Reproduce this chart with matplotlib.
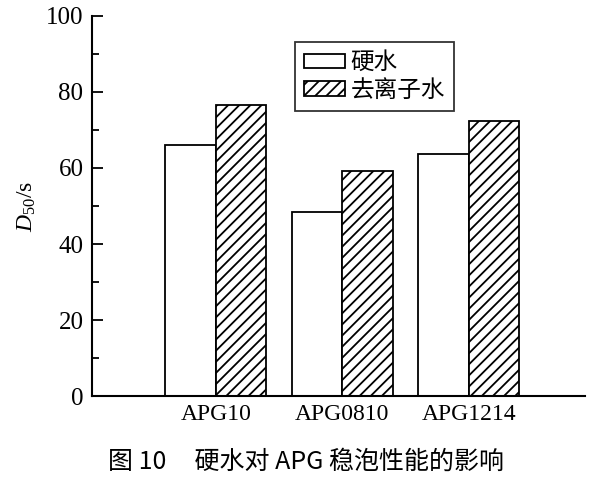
import matplotlib
matplotlib.use("Agg")
import matplotlib.pyplot as plt
import matplotlib.transforms as mtransforms
import numpy as np

categories = ["APG10", "APG0810", "APG1214"]
hard_water = [66.0, 48.3, 63.6]
deionized_water = [76.5, 59.1, 72.4]
series_labels = ["硬水", "去离子水"]
yticks = [0, 20, 40, 60, 80, 100]
caption = "图 10     硬水对 APG 稳泡性能的影响"

plt.rcParams['font.family'] = ['Liberation Serif', 'Noto Sans CJK SC']
plt.rcParams['mathtext.fontset'] = 'custom'
plt.rcParams['mathtext.rm'] = 'Liberation Serif'
plt.rcParams['mathtext.it'] = 'Liberation Serif:italic'
plt.rcParams['hatch.linewidth'] = 1.3

fig = plt.figure(figsize=(6.12, 4.79), dpi=100)
ax = fig.add_axes([0.150, 0.173, 0.806, 0.794])

x = np.arange(1, len(categories) + 1)
w = 0.4
ax.bar(x - w / 2, hard_water, width=w, facecolor='white', edgecolor='black',
       linewidth=1.3, label=series_labels[0])
ax.bar(x + w / 2, deionized_water, width=w, facecolor='white', edgecolor='black',
       linewidth=1.3, hatch='///', label=series_labels[1])

ax.set_xlim(0.02, 3.92)
ax.set_ylim(0, 100)
ax.set_yticks(yticks)
ax.set_yticks(np.arange(10, 100, 20), minor=True)
ax.set_xticks(x)
ax.set_xticklabels(categories, fontsize=17)
offset = mtransforms.ScaledTranslation(9 / 100, 0, fig.dpi_scale_trans)
for lab in ax.get_xticklabels():
    lab.set_transform(lab.get_transform() + offset)
ax.tick_params(axis='x', length=0, pad=6)
ax.tick_params(axis='y', which='major', direction='in', length=8, width=1.3,
               labelsize=18, pad=6)
ax.tick_params(axis='y', which='minor', direction='in', length=5, width=1.3)

for s in ['top', 'right']:
    ax.spines[s].set_visible(False)
for s in ['left', 'bottom']:
    ax.spines[s].set_linewidth(1.5)

ax.set_ylabel(r'$D_{50}$/s', fontsize=17, labelpad=6)

leg = ax.legend(loc='upper left', bbox_to_anchor=(0.412, 0.932),
                prop={'family': 'Noto Sans CJK SC', 'size': 17},
                frameon=True, fancybox=False, edgecolor='black',
                handlelength=1.7, handleheight=0.55, handletextpad=0.25,
                borderpad=0.4, labelspacing=0.2, borderaxespad=0)
leg.get_frame().set_linewidth(1.3)

fig.text(0.5, 0.035, caption, ha='center', va='center', fontsize=18,
         family=['Noto Sans CJK SC', 'Liberation Serif'])

fig.savefig('out.png', dpi=100)
